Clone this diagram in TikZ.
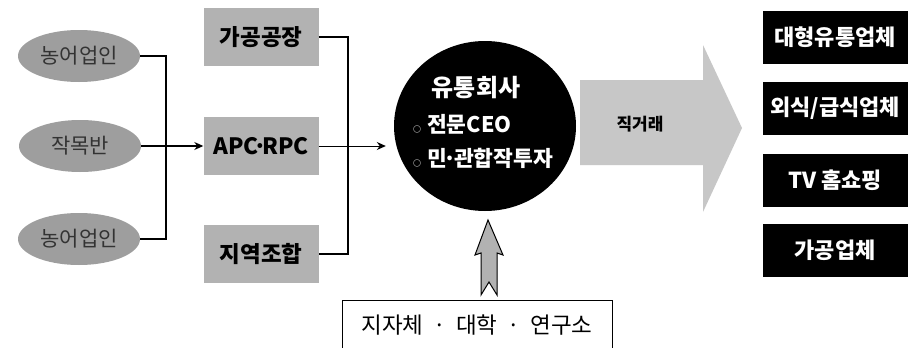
\documentclass[tikz,border=0pt]{standalone}
\usepackage{fontspec}
\setmainfont{Noto Sans CJK KR}
\usetikzlibrary{shapes.geometric,arrows.meta}
\tikzset{
 src/.style={ellipse, fill=black!38, minimum width=122pt, minimum height=52pt, inner sep=0pt, text=black!80, font=\fontsize{21}{21}\selectfont},
 mid/.style={rectangle, fill=black!30, minimum width=115pt, minimum height=58pt, inner sep=0pt, font=\bfseries\fontsize{22.5}{22.5}\selectfont},
 dest/.style={rectangle, fill=black, text=white, minimum width=145pt, minimum height=53pt, inner sep=0pt, font=\bfseries\fontsize{22}{22}\selectfont},
 conn/.style={line width=1.2pt, black},
 arr/.style={conn, -{Stealth[length=9pt,width=8pt]}},
 wtxt/.style={text=white, inner sep=0pt, font=\bfseries\fontsize{21.5}{21.5}\selectfont},
}
\begin{document}
\begin{tikzpicture}[x=1pt,y=-1pt]
\useasboundingbox (0,0) rectangle (914,348);
\fill[white] (0,0) rectangle (914,348);
% sources
\node[src] (f1) at (79,56) {농어업인};
\node[src] (f2) at (80,146) {작목반};
\node[src] (f3) at (79,239) {농어업인};
% processors
\node[mid] (p1) at (261,37) {가공공장};
\node[mid] (p2) at (261,146) {APC\kern-5pt·\kern-5pt RPC};
\node[mid] (p3) at (261,254) {지역조합};
\coordinate (ja) at (166,56);
\coordinate (jb) at (166,239);
\draw[conn] (f1.east) -- (ja) -- (jb) -- (f3.east);
\draw[arr] (f2.east) -- (p2.west);
\coordinate (ka) at (348,37);
\coordinate (kb) at (348,254);
\draw[conn] (p1.east) -- (ka) -- (kb) -- (p3.east);
% company
\node[ellipse, fill=black, minimum width=182pt, minimum height=170pt, inner sep=0pt] (co) at (485,126) {};
\draw[arr, line width=0.9pt, shorten >=8pt] (p2.east) -- (p2.east -| co.west);
\node[wtxt, font=\bfseries\fontsize{24}{24}\selectfont] (cot) at (476,88) {유통회사};
\node[wtxt, anchor=west] (co1) at (413,124) {{\fontsize{8}{8}\selectfont ○}\hspace{6pt}전문CEO};
\node[wtxt, anchor=west] (co2) at (413,158) {{\fontsize{8}{8}\selectfont ○}\hspace{6pt}민\kern-3pt·\kern-3pt 관합작투자};
% big arrow
\fill[black!22] (580,80) -- (703,80) -- (703,45) -- (742,128) -- (703,212) -- (703,165) -- (580,165) -- cycle;
\node[font=\bfseries\fontsize{17}{17}\selectfont] (dt) at (640,124) {직거래};
% destinations
\node[dest] (d1) at (835,37) {대형유통업체};
\node[dest] (d2) at (835,108) {외식/급식업체};
\node[dest] (d3) at (835,180) {TV 홈쇼핑};
\node[dest] (d4) at (835,250) {가공업체};
% support
\node[font=\fontsize{22.5}{22.5}\selectfont, inner sep=0pt] (gv) at (477,325) {지자체\hspace{10pt}·\hspace{10pt}대학\hspace{10pt}·\hspace{10pt}연구소};
\draw[line width=1pt] (342,348) -- (342,300) -- (612,300) -- (612,348);
\draw[fill=black!30, line width=1pt, line join=miter] (488,220) -- (503,255) -- (497,253) -- (497,295) -- (489,282) -- (481,295) -- (481,253) -- (475,255) -- cycle;
\end{tikzpicture}
\end{document}
